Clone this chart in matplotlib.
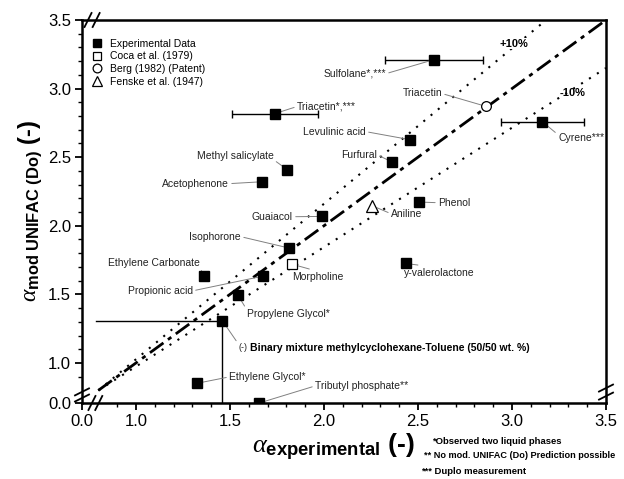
import numpy as np
import matplotlib
matplotlib.use('Agg')
import matplotlib.pyplot as plt

plt.rcParams['font.family'] = ['Liberation Sans', 'DejaVu Sans']
plt.rcParams['mathtext.fontset'] = 'custom'
plt.rcParams['mathtext.it'] = 'Liberation Serif:italic'
plt.rcParams['mathtext.rm'] = 'Liberation Sans'
plt.rcParams['mathtext.bf'] = 'Liberation Sans:bold'

# experimental data (filled squares)
exp_names = ['Sulfolane*,***', 'Triacetin*,***', 'Cyrene***', 'Levulinic acid', 'Furfural',
             'Methyl salicylate', 'Acetophenone', 'Phenol', 'Guaiacol', 'Isophorone',
             'Ethylene Carbonate', 'Propionic acid', 'Propylene Glycol*', 'y-valerolactone',
             'Binary', 'Ethylene Glycol*', 'Tributyl phosphate**']
exp_x = [2.587, 1.739, 3.161, 2.456, 2.362, 1.805, 1.672, 2.507, 1.989, 1.816,
         1.362, 1.676, 1.541, 2.436, 1.459, 1.326, 1.656]
exp_y = [3.212, 2.818, 2.759, 2.628, 2.465, 2.409, 2.321, 2.173, 2.068, 1.837,
         1.635, 1.633, 1.496, 1.725, 1.309, 0.852, 0.708]
err_names = ['Sulfolane*,***', 'Triacetin*,***', 'Cyrene***']
err_x = [0.26, 0.227, 0.222]

# literature points
coca_x, coca_y = [1.830], [1.720]      # Morpholine
berg_x, berg_y = [2.860], [2.871]      # Triacetin
fenske_x, fenske_y = [2.257], [2.146]  # Aniline

# label text position, alignment and leader start (relpos)
labels = {
    'Sulfolane*,***': (2.330, 3.109, 'right', (1, 0.5)),
    'Triacetin*,***': (1.856, 2.869, 'left', (0, 0.5)),
    'Cyrene***': (3.245, 2.642, 'left', (0, 0.8)),
    'Levulinic acid': (2.223, 2.686, 'right', (1, 0.5)),
    'Furfural': (2.282, 2.518, 'right', (1, 0.5)),
    'Methyl salicylate': (1.527, 2.511, 'center', (1, 0.1)),
    'Acetophenone': (1.495, 2.307, 'right', (1, 0.5)),
    'Phenol': (2.606, 2.168, 'left', (0, 0.5)),
    'Guaiacol': (1.835, 2.066, 'right', (1, 0.5)),
    'Isophorone': (1.559, 1.920, 'right', (1, 0.5)),
    'Ethylene Carbonate': (1.096, 1.730, 'center', (1, 0.0)),
    'Propionic acid': (1.303, 1.526, 'right', (1, 0.5)),
    'Propylene Glycol*': (1.590, 1.358, 'left', (0, 0.9)),
    'y-valerolactone': (2.426, 1.657, 'left', (0.5, 1)),
    'Binary': (1.543, 1.109, 'left', (0, 1)),
    'Ethylene Glycol*': (1.495, 0.898, 'left', (0, 0.5)),
    'Tributyl phosphate**': (1.952, 0.832, 'left', (0, 0.5)),
}
lit_labels = [
    ('Morpholine', coca_x[0], coca_y[0], 1.830, 1.628, 'left', (0.53, 1)),
    ('Triacetin', berg_x[0], berg_y[0], 2.628, 2.971, 'right', (1, 0.4)),
    ('Aniline', fenske_x[0], fenske_y[0], 2.356, 2.088, 'left', (0, 0.5)),
]

x_lo, y_lo, top = 0.713, 0.708, 3.5
brk = 0.8

fig = plt.figure(figsize=(6.24, 4.79), dpi=100)
ax = fig.add_axes([82/624, 1-403/479, 524/624, 383/479])

# parity lines
for k, ls, lw in [(1.0, (0, (6, 2, 1.5, 2)), 2.0), (1.1, (0, (1, 3.5)), 1.5), (0.9, (0, (1, 3.5)), 1.5)]:
    xe = min(top, top / k)
    ax.plot([brk, xe], [brk, k * xe], color='black', ls=ls, lw=lw, zorder=2)

# binary mixture guide lines
bx, by = exp_x[14], exp_y[14]
ax.plot([0.79, bx], [by, by], color='black', lw=1.0, zorder=2)
ax.plot([bx, bx], [by, y_lo], color='black', lw=1.0, zorder=2)

for nm, xe in zip(err_names, err_x):
    i = exp_names.index(nm)
    ax.errorbar(exp_x[i], exp_y[i], xerr=xe, fmt='none', ecolor='black', elinewidth=1, capsize=3, capthick=1, zorder=3)

ax.plot(exp_x, exp_y, 's', color='black', ms=6.5, zorder=4, label='Experimental Data')
ax.plot(coca_x, coca_y, 's', mfc='white', mec='black', mew=0.9, ms=6.5, zorder=4, label='Coca et al. (1979)')
ax.plot(berg_x, berg_y, 'o', mfc='white', mec='black', mew=0.9, ms=7, zorder=4, label='Berg (1982) (Patent)')
ax.plot(fenske_x, fenske_y, '^', mfc='white', mec='black', mew=0.9, ms=8, zorder=4, label='Fenske et al. (1947)')

lead = dict(arrowstyle='-', color='#808080', lw=0.7, shrinkA=0, shrinkB=3.5)
for nm, px, py in zip(exp_names, exp_x, exp_y):
    tx, ty, ha, rp = labels[nm]
    txt = '(-)' if nm == 'Binary' else nm
    fs = 6.5 if nm == 'Binary' else 7.5
    ax.annotate(txt, (px, py), xytext=(tx, ty), ha=ha, va='center', fontsize=fs,
                color='#222222', arrowprops=dict(lead, relpos=rp), annotation_clip=False)
for nm, px, py, tx, ty, ha, rp in lit_labels:
    ax.annotate(nm, (px, py), xytext=(tx, ty), ha=ha, va='center', fontsize=7.5,
                color='#222222', arrowprops=dict(lead, relpos=rp))
ax.text(1.606, 1.109, 'Binary mixture methylcyclohexane-Toluene (50/50 wt. %)', fontsize=7.5,
        fontweight='bold', va='center', ha='left')
ax.text(3.011, 3.328, '+10%', fontsize=8, fontweight='bold', ha='center', va='center',
        bbox=dict(fc='white', ec='none', pad=0.5))
ax.text(3.324, 2.971, '-10%', fontsize=8, fontweight='bold', ha='center', va='center')

ax.set_xlim(x_lo, top)
ax.set_ylim(y_lo, top)
ax.set_xticks([x_lo, 1.0, 1.5, 2.0, 2.5, 3.0, 3.5])
ax.set_xticklabels(['0.0', '1.0', '1.5', '2.0', '2.5', '3.0', '3.5'])
ax.set_yticks([y_lo, 1.0, 1.5, 2.0, 2.5, 3.0, 3.5])
ax.set_yticklabels(['0.0', '1.0', '1.5', '2.0', '2.5', '3.0', '3.5'])
minors = [v for v in np.round(np.arange(0.9, 3.51, 0.1), 2) if round(v * 2) != v * 2]
ax.set_xticks(minors, minor=True)
ax.set_yticks(minors, minor=True)
ax.tick_params(which='major', length=5, width=1.3, labelsize=12, pad=3)
ax.tick_params(which='minor', length=3, width=1.0)
for s in ax.spines.values():
    s.set_linewidth(1.8)

# axis break marks
def slash(xc, yc, dx, dy):
    ax.plot([xc - dx, xc + dx], [yc - dy, yc + dy], transform=ax.transAxes, color='black',
            lw=1.3, clip_on=False, zorder=6)
hx, hy = 3.5 / 524, 7 / 383
for xc in [0.0115, 0.027]:
    slash(xc, 1.0, hx, hy)
for xc in [0.019, 0.032]:
    slash(xc, 0.0, hx, hy)
vx, vy = 7 / 524, 3.5 / 383
for yc in [0.039, 0.018]:
    slash(1.0, yc, vx, vy)
for yc in [0.029, 0.013]:
    slash(0.0, yc, vx, vy)

leg = ax.legend(loc='upper left', bbox_to_anchor=(0.005, 0.97), frameon=False, fontsize=7.5,
                labelspacing=0.25, handletextpad=0.7, handlelength=1.0, borderaxespad=0.3,
                markerscale=0.9)

fig.text(0.535, 1 - 447/479, r'$\alpha_{\mathbf{experimental}}$ (-)', fontsize=19,
         fontweight='bold', ha='center', va='center')
fig.text(0.048, 1 - 211/479, r'$\alpha_{\mathbf{mod\ UNIFAC\ (Do)}}$ (-)', fontsize=17,
         fontweight='bold', ha='center', va='center', rotation=90)

fig.text(432/624, 1 - 441/479, '*Observed two liquid phases', fontsize=6.8, fontweight='bold', va='center')
fig.text(424/624, 1 - 456/479, '** No mod. UNIFAC (Do) Prediction possible', fontsize=6.6,
         fontweight='bold', va='center')
fig.text(421/624, 1 - 471/479, '*** Duplo measurement', fontsize=6.8, fontweight='bold', va='center')

fig.savefig('out.png', dpi=100)
